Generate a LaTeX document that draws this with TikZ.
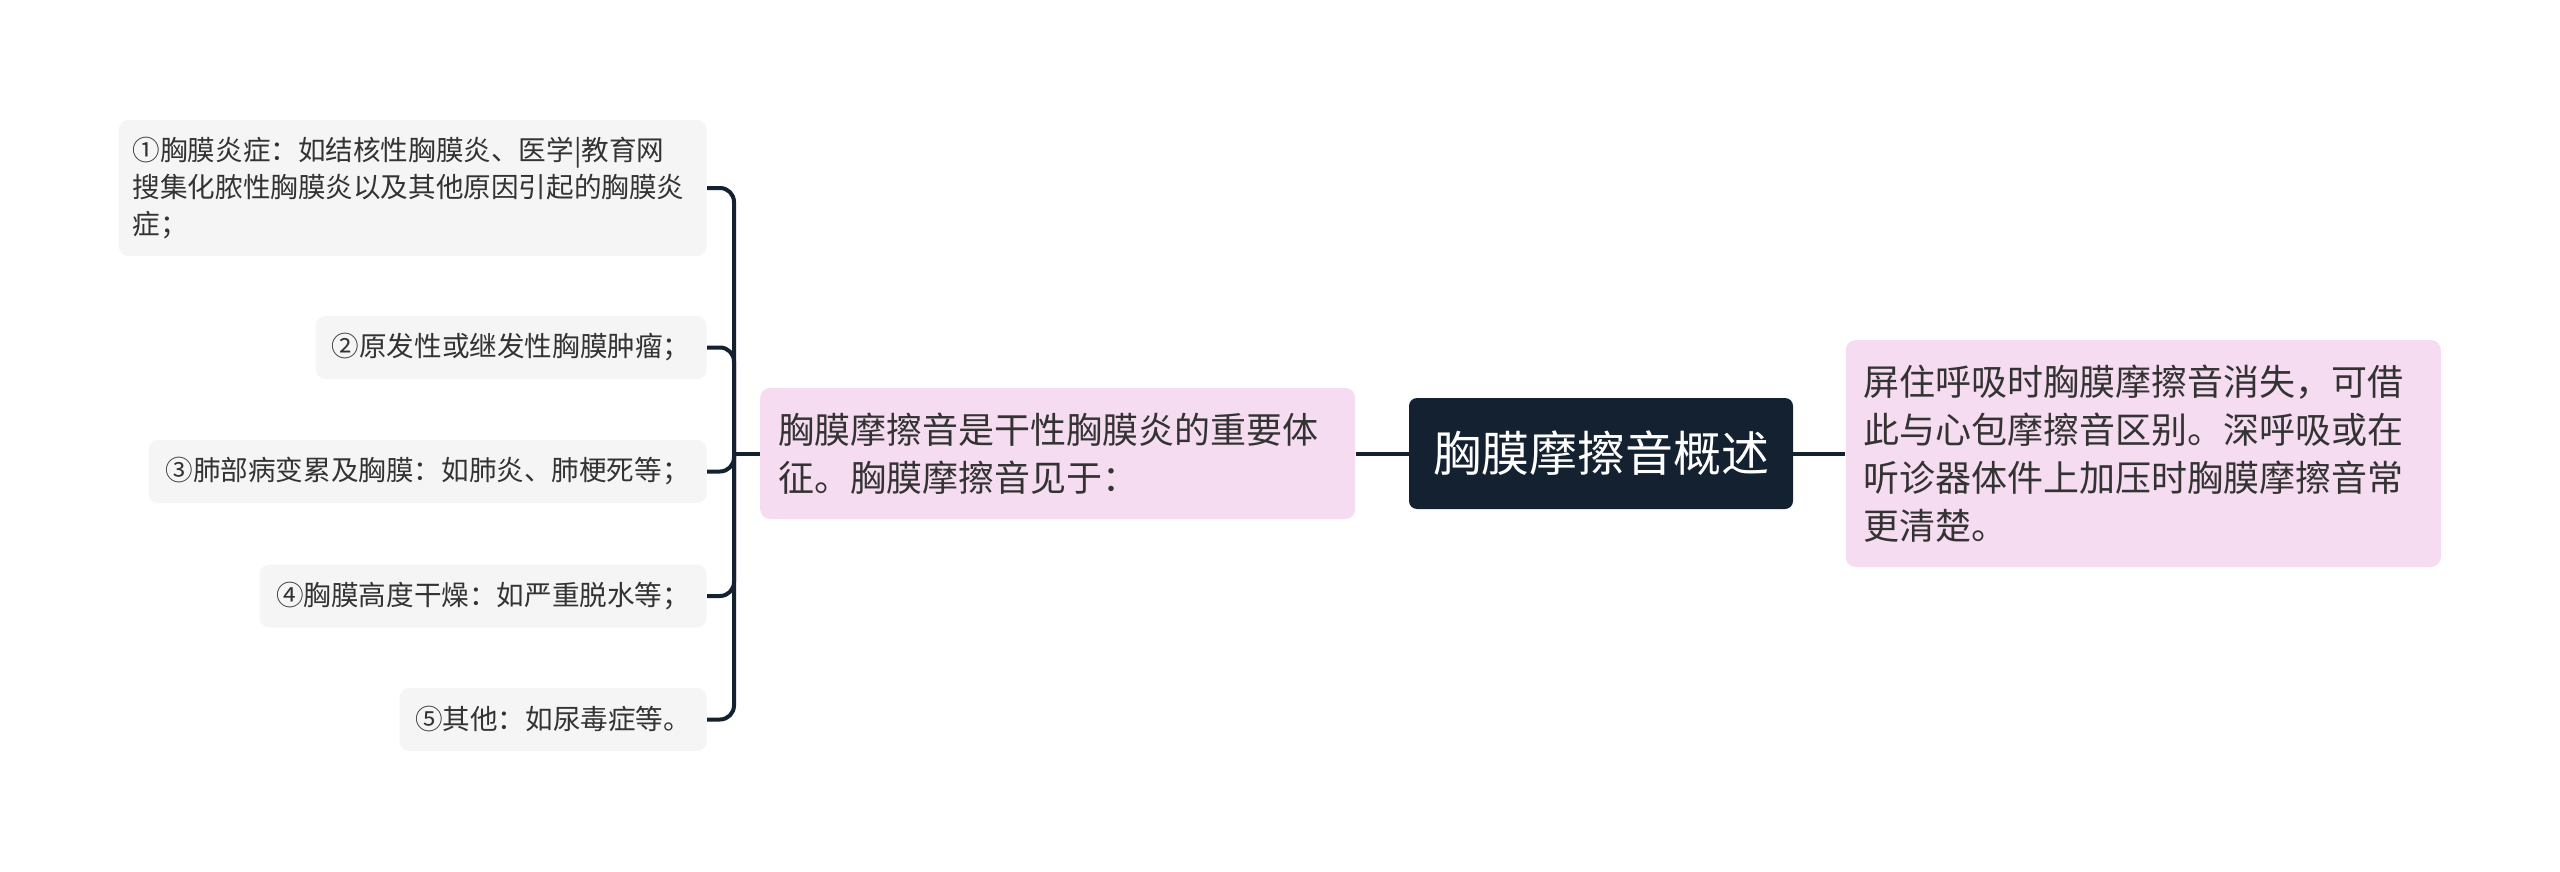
\documentclass[tikz,border=0pt]{standalone}
\usepackage{fontspec}
\setmainfont{Noto Sans CJK SC}
\usetikzlibrary{positioning}
\definecolor{navy}{RGB}{20,33,48}
\definecolor{pinkbg}{RGB}{245,220,240}
\definecolor{graybg}{RGB}{245,245,245}
\tikzset{topic/.style={rectangle,rounded corners=4pt,fill=navy,text=white,minimum width=192pt,minimum height=55.5pt,inner sep=0pt,font=\fontsize{24pt}{30pt}\selectfont},
sub/.style={rectangle,rounded corners=5pt,fill=pinkbg,text=black!80,align=left,text width=279.5pt,inner xsep=9pt,inner ysep=0pt,font=\fontsize{18pt}{24pt}\selectfont},
leaf/.style={rectangle,rounded corners=5pt,fill=graybg,text=black!80,align=left,anchor=east,minimum height=31.5pt,inner xsep=7pt,inner ysep=0pt,font=\fontsize{13.8pt}{18.5pt}\selectfont},
link/.style={line width=2pt,draw=navy,rounded corners=7pt}}

\begin{document}
\begin{tikzpicture}[x=0.5pt,y=-0.5pt]
    \useasboundingbox[fill=white] (0,0) rectangle (2560,872);

    \node [topic] (topic) at (1601,453.5) {胸膜摩擦音概述};
    \node [sub, minimum height=65.5pt, left=26.5pt of topic] (mid) {胸膜摩擦音是干性胸膜炎的重要体\\征。胸膜摩擦音见于：};
    \node [sub, minimum height=113.5pt, right=26pt of topic] (detail) {屏住呼吸时胸膜摩擦音消失，可借\\此与心包摩擦音区别。深呼吸或在\\听诊器体件上加压时胸膜摩擦音常\\更清楚。};

    \node [leaf, text width=280pt, minimum height=68pt] (leaf1) at (707,188) {①胸膜炎症：如结核性胸膜炎、医学|教育网\\搜集化脓性胸膜炎以及其他原因引起的胸膜炎\\症；};
    \node [leaf, minimum width=195.5pt] (leaf2) at (707,347.5) {②原发性或继发性胸膜肿瘤；};
    \node [leaf, minimum width=279pt] (leaf3) at (707,471.5) {③肺部病变累及胸膜：如肺炎、肺梗死等；};
    \node [leaf, minimum width=223.5pt] (leaf4) at (707,596) {④胸膜高度干燥：如严重脱水等；};
    \node [leaf, minimum width=153.5pt] (leaf5) at (707,719.5) {⑤其他：如尿毒症等。};

    \coordinate (fork) at (734,453.5);

    \draw [link] (topic) -- (mid);
    \draw [link] (topic) -- (detail);
    \draw [link] (mid.west) -- (fork);
    \foreach \i in {1,...,5}
        {
        \draw [link] (fork) |- (leaf\i.east);
        }
\end{tikzpicture}
\end{document}
